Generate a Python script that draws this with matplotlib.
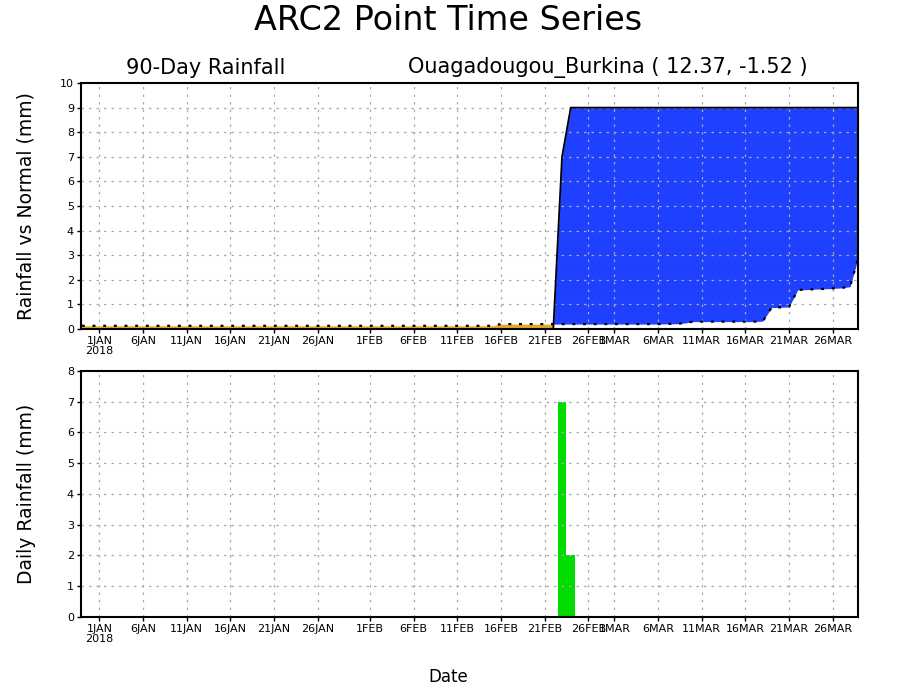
import numpy as np
import matplotlib
matplotlib.use("Agg")
import matplotlib.pyplot as plt

# Day index: 0 = 1 JAN 2018; series runs 30 DEC 2017 (-2) .. 29 MAR 2018 (87)
days = list(range(-2, 88))

# Cumulative normal rainfall (mm)
normal_cum = (
    [0.13] * 48 +                      # 30 DEC .. 15 FEB
    [0.20] * 7 +                       # 16 FEB .. 22 FEB
    [0.20, 0.20, 0.20, 0.20, 0.20, 0.20, 0.20, 0.20, 0.20, 0.20, 0.20, 0.20, 0.21, 0.21] +  # 23 FEB .. 8 MAR
    [0.24] +                           # 9 MAR
    [0.30] * 8 +                       # 10 MAR .. 17 MAR
    [0.32, 0.87, 0.88, 0.90] +         # 18 .. 21 MAR
    [1.59, 1.60, 1.62, 1.63, 1.65, 1.67] +  # 22 .. 27 MAR
    [1.72, 3.00]                       # 28 .. 29 MAR
)

# Daily rainfall (mm)
daily_rain = [0.0] * 90
daily_rain[53 + 2] = 7.0   # 23 FEB
daily_rain[54 + 2] = 2.0   # 24 FEB

actual_cum = list(np.cumsum(daily_rain))

tick_days = [0, 5, 10, 15, 20, 25, 31, 36, 41, 46, 51, 56, 59, 64, 69, 74, 79, 84]
tick_labels = ["1JAN\n2018", "6JAN", "11JAN", "16JAN", "21JAN", "26JAN",
               "1FEB", "6FEB", "11FEB", "16FEB", "21FEB", "26FEB",
               "1MAR", "6MAR", "11MAR", "16MAR", "21MAR", "26MAR"]

x = np.array(days, dtype=float)
act = np.array(actual_cum)
nor = np.array(normal_cum)

plt.rcParams['font.family'] = ['DejaVu Sans']
fig = plt.figure(figsize=(9, 7), dpi=100)

ax1 = fig.add_axes([0.09, 0.53, 0.8633, 0.3514])
ax2 = fig.add_axes([0.09, 0.1186, 0.8633, 0.3514])

blue = '#2040ff'
orange = '#e6a826'
green = '#00dc00'

# Top panel
ax1.fill_between(x, nor, act, where=act >= nor, interpolate=True, color=blue, lw=0, zorder=1)
ax1.fill_between(x, nor, act, where=act < nor, interpolate=True, color=orange, lw=0, zorder=1)
ax1.plot(x, act, color='black', lw=1.3, zorder=4)
ax1.plot(x, nor, color='black', lw=1.6, linestyle=(0, (1.3, 3.5)), zorder=4)
ax1.set_ylim(0, 10)
ax1.set_yticks(range(0, 11))
ax1.set_ylabel("Rainfall vs Normal (mm)", fontsize=13.5)
ax1.yaxis.set_label_coords(-0.058, 0.5)

# Bottom panel
ax2.bar(x, daily_rain, width=1.0, color=green, lw=0, zorder=1)
ax2.set_ylim(0, 8)
ax2.set_yticks(range(0, 9))
ax2.set_ylabel("Daily Rainfall (mm)", fontsize=13.5)
ax2.yaxis.set_label_coords(-0.058, 0.5)
ax2.set_xlabel("Date", fontsize=12)
ax2.xaxis.set_label_coords(0.473, -0.207)

for ax in (ax1, ax2):
    ax.set_xlim(-2.1, 86.9)
    ax.set_xticks(tick_days)
    ax.set_xticklabels(tick_labels, fontsize=8, linespacing=0.95)
    ax.tick_params(axis='both', direction='out', length=3, width=1, labelsize=8, pad=2)
    ax.grid(True, color='#aaaaaa', linestyle=(0, (2, 4)), lw=0.9, zorder=3)
    ax.set_axisbelow(False)
    for sp in ax.spines.values():
        sp.set_linewidth(1.5)
        sp.set_zorder(5)

fig.text(0.498, 0.971, "ARC2 Point Time Series", ha='center', va='center', fontsize=24)
fig.text(0.229, 0.903, "90-Day Rainfall", ha='center', va='center', fontsize=15)
fig.text(0.675, 0.903, "Ouagadougou_Burkina ( 12.37, -1.52 )", ha='center', va='center', fontsize=15)

fig.savefig("out.png", dpi=100)
